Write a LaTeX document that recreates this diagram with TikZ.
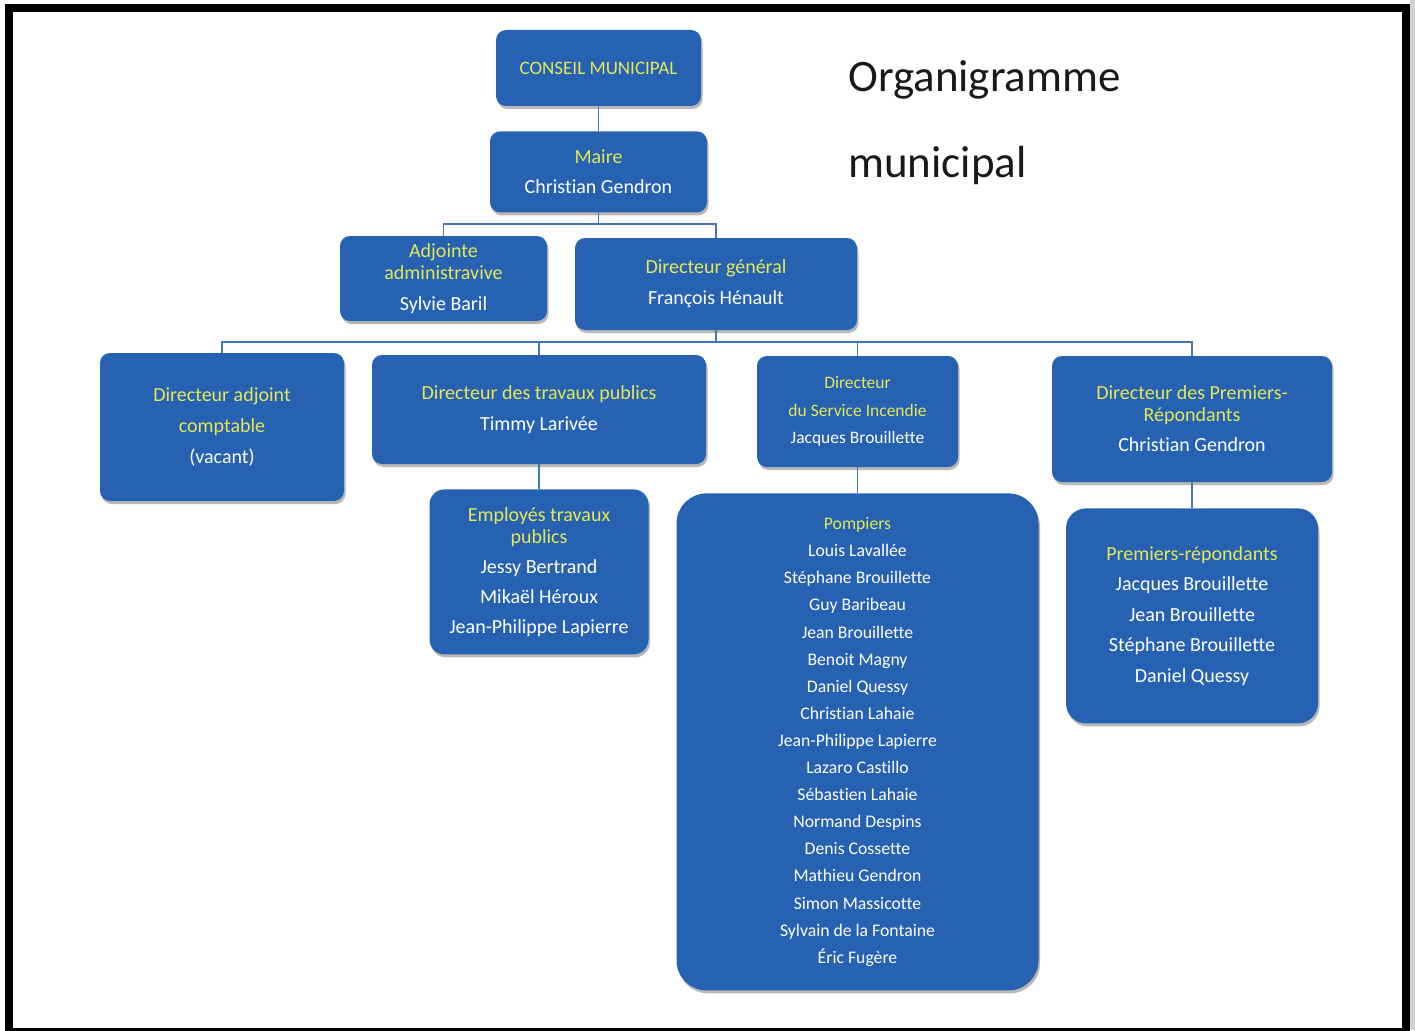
\documentclass[tikz,border=0pt]{standalone}
\usepackage{fontspec}
\setmainfont{Carlito}[Ligatures={NoCommon}]
\usepackage{xcolor}
\usetikzlibrary{positioning,shadows}
\definecolor{boxblue}{RGB}{38,97,178}
\definecolor{roleyellow}{RGB}{228,232,88}
\definecolor{linkblue}{RGB}{70,118,178}
\newcommand{\role}[1]{\textcolor{roleyellow}{#1}}

\begin{document}
\begin{tikzpicture}[
    x=1pt, y=-1pt,
    box/.style={
        fill=boxblue,
        rounded corners=10pt,
        align=center,
        text=white,
        font=\fontsize{20}{22}\selectfont,
        inner sep=0pt,
        drop shadow={shadow xshift=1.5pt, shadow yshift=-3pt, opacity=0.28, fill=black}
    },
    link/.style={draw=linkblue, line width=1.5pt},
    title/.style={
        anchor=base west,
        inner sep=0pt,
        font=\fontsize{45}{45}\selectfont,
        text=black!90
    }
]
\useasboundingbox (0,0) rectangle (1415,1030);

\node[box, minimum width=205pt, minimum height=76pt, font=\fontsize{19}{22}\selectfont] (conseil) at (598.5,68)
  {\role{CONSEIL MUNICIPAL}};

\node[box, minimum width=217pt, minimum height=81pt, below=25pt of conseil] (maire)
  {\role{Maire}\\[8pt]Christian Gendron};

\node[box, minimum width=207pt, minimum height=85pt] (adjointe) at (443.5,278.5)
  {\role{Adjointe}\\\role{administravive}\\[9pt]Sylvie Baril};

\node[box, minimum width=282pt, minimum height=92pt] (dg) at (716,284)
  {\role{Directeur général}\\[9pt]François Hénault};

\node[box, minimum width=244pt, minimum height=148pt] (comptable) at (222,427)
  {\role{Directeur adjoint}\\[9pt]\role{comptable}\\[9pt](vacant)};

\node[box, minimum width=334pt, minimum height=109pt] (travaux) at (539,409.5)
  {\role{Directeur des travaux publics}\\[9pt]Timmy Larivée};

\node[box, minimum width=201pt, minimum height=111pt, font=\fontsize{17.5}{27.5}\selectfont] (incendie) at (857.5,411.5)
  {\role{Directeur}\\\role{du Service Incendie}\\Jacques Brouillette};

\node[box, minimum width=280pt, minimum height=126pt] (premiers) at (1192,419)
  {\role{Directeur des Premiers-}\\\role{Répondants}\\[8pt]Christian Gendron};

\node[box, minimum width=219pt, minimum height=165pt, rounded corners=15pt, below=25pt of travaux] (employes)
  {\role{Employés travaux}\\\role{publics}\\[8pt]Jessy Bertrand\\[8pt]Mikaël Héroux\\[8pt]Jean-Philippe Lapierre};

\node[box, minimum width=362pt, minimum height=497pt, rounded corners=30pt, font=\fontsize{17.7}{27.1}\selectfont, below=26pt of incendie] (pompiers)
  {\role{Pompiers}\\Louis Lavallée\\Stéphane Brouillette\\Guy Baribeau\\Jean Brouillette\\Benoit Magny\\Daniel Quessy\\Christian Lahaie\\Jean-Philippe Lapierre\\Lazaro Castillo\\Sébastien Lahaie\\Normand Despins\\Denis Cossette\\Mathieu Gendron\\Simon Massicotte\\Sylvain de la Fontaine\\Éric Fugère};

\node[box, minimum width=252pt, minimum height=215pt, rounded corners=20pt, font=\fontsize{20}{30.5}\selectfont, below=26pt of premiers] (repondants)
  {\role{Premiers-répondants}\\Jacques Brouillette\\Jean Brouillette\\Stéphane Brouillette\\Daniel Quessy};

\node[title] (titre) at (848,92) {Organigramme};
\node[title] (soustitre) at (848,177) {municipal};

\coordinate (upper) at (598.5,224);
\coordinate (lower) at (716,342);

\draw[link] (conseil) -- (maire);
\draw[link] (maire) -- (upper) -| (adjointe);
\draw[link] (upper) -| (dg);
\draw[link] (dg) -- (lower) -| (comptable);
\draw[link] (lower) -| (travaux);
\draw[link] (lower) -| (incendie);
\draw[link] (lower) -| (premiers);
\draw[link] (travaux) -- (employes);
\draw[link] (incendie) -- (pompiers);
\draw[link] (premiers) -- (repondants);

\fill[gray!35] (1410,0) rectangle (1415,1030);
\draw[line width=8pt] (9,8.5) rectangle (1406,1032);
\end{tikzpicture}
\end{document}
